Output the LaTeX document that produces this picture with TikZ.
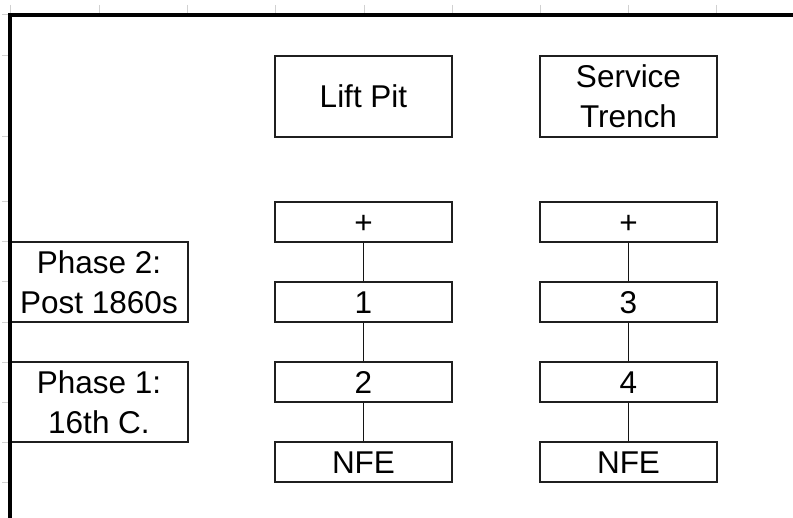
\documentclass[tikz,border=0pt]{standalone}
\usepackage{fontspec}
\setmainfont{Liberation Sans}
\begin{document}
\begin{tikzpicture}[x=1bp,y=-1bp,
  box/.style={draw=black!88,line width=1.5bp,rectangle,inner sep=0pt,
    font={\fontsize{31.5bp}{40bp}\selectfont},align=center,
    text height=22.6bp,text depth=0bp},
  bigbox/.style={box,minimum width=177bp,minimum height=81bp},
  twoline/.style={text height=62.6bp,text depth=0bp},
  cell/.style={box,minimum width=177bp,minimum height=40bp},
  phasebox/.style={box,twoline,minimum width=178bp,minimum height=80bp},
  conn/.style={draw=black!92,line width=1.9bp},
  tick/.style={draw=black!18,line width=1bp},
  frame/.style={draw=black,line width=3.6bp,line join=miter}]
\useasboundingbox (0,0) rectangle (793,518);
% spreadsheet grid ticks
\foreach \x in {10,99,187,275,364,452,540,628,716} \draw[tick] (\x,5) -- (\x,15);
\foreach \y in {15,56,137,202,242,282,322,362,402,442,482} \draw[tick] (2,\y) -- (10,\y);
% headers
\node[bigbox] (lift) at (363.5,96.5) {Lift Pit};
\node[bigbox,twoline] (trench) at (628.5,96.5) {Service\\Trench};
% lift pit column
\node[cell] (l0) at (363.5,222) {+};
\node[cell] (l1) at (363.5,302) {1};
\node[cell] (l2) at (363.5,382) {2};
\node[cell] (l3) at (363.5,462) {NFE};
% service trench column
\node[cell] (t0) at (628.5,222) {+};
\node[cell] (t1) at (628.5,302) {3};
\node[cell] (t2) at (628.5,382) {4};
\node[cell] (t3) at (628.5,462) {NFE};
% phases
\node[phasebox] (p2) at (99,282) {Phase 2:\\Post 1860s};
\node[phasebox] (p1) at (99,402) {Phase 1:\\16th C.};
% connectors
\draw[conn] (l0) -- (l1);
\draw[conn] (l1) -- (l2);
\draw[conn] (l2) -- (l3);
\draw[conn] (t0) -- (t1);
\draw[conn] (t1) -- (t2);
\draw[conn] (t2) -- (t3);
% frame
\draw[frame] (10,518) -- (10,15) -- (793,15);
\end{tikzpicture}
\end{document}
